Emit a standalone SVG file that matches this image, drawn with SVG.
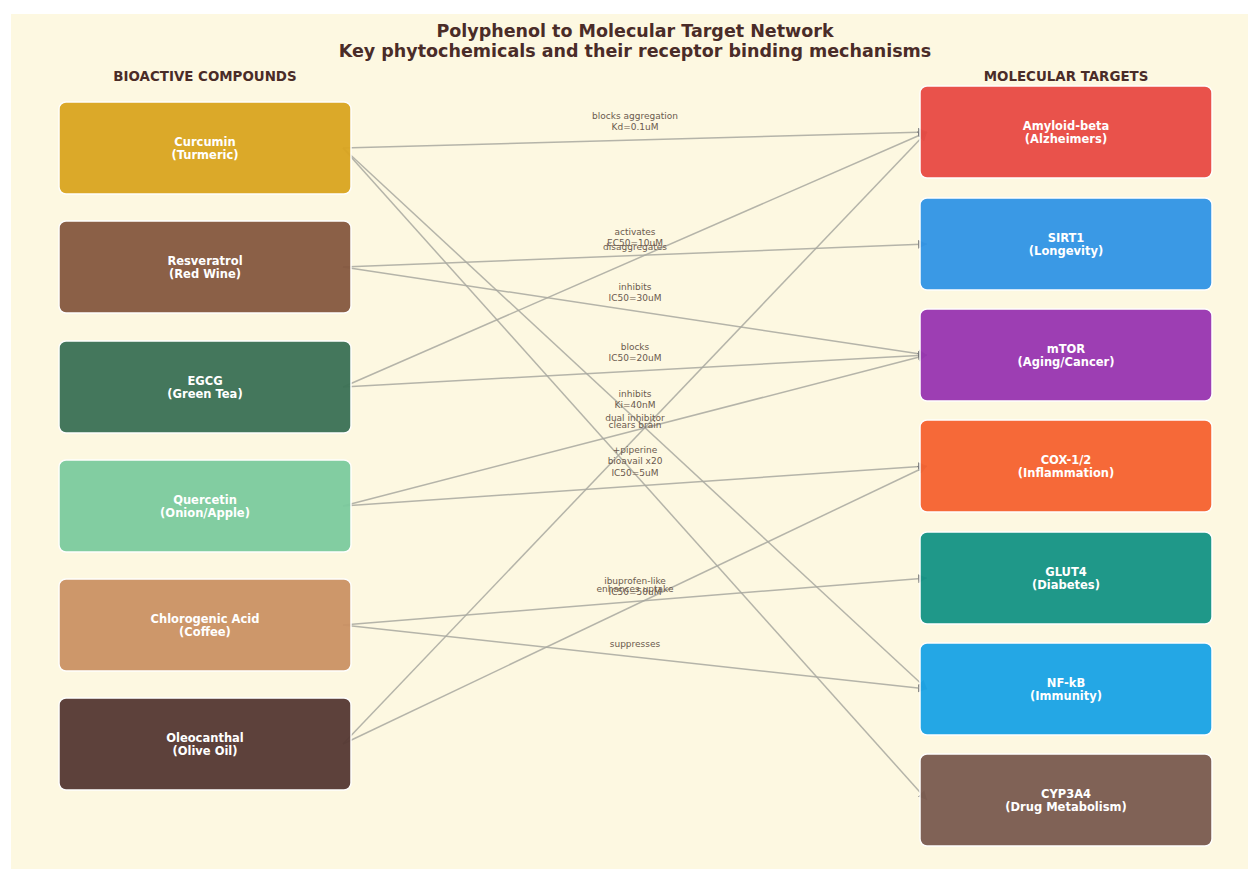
<svg xmlns="http://www.w3.org/2000/svg" width="1248" height="869" viewBox="0 0 1248 869">
<defs>
<marker id="arr" viewBox="0 0 10 10" refX="10" refY="5" markerWidth="9" markerHeight="9" orient="auto" markerUnits="userSpaceOnUse"><path d="M0,0 L10,5 L0,10 z" fill="#777"/></marker>
<style>
.title{font-family:"DejaVu Sans",sans-serif;font-weight:bold;font-size:17.5px;fill:#4a2c28;text-anchor:middle}
.hdr{font-family:"DejaVu Sans",sans-serif;font-weight:bold;font-size:13.4px;fill:#4a2c28;text-anchor:middle}
.node rect{stroke:#ffffff;stroke-width:1.5;opacity:0.95}
.node text{font-family:"DejaVu Sans",sans-serif;font-weight:bold;font-size:11.5px;fill:#ffffff;text-anchor:middle}
.edge{stroke:#a9a9a0;stroke-width:1.5;fill:none;opacity:0.85}
.lbl{font-family:"DejaVu Sans",sans-serif;font-size:9px;fill:#6b5a4e;text-anchor:middle}
</style>
</defs>
<rect x="0" y="0" width="1248" height="869" fill="#ffffff"/>
<rect x="11" y="14" width="1237" height="855" fill="#fdf8e1"/>
<text class="title" x="635" y="37">Polyphenol to Molecular Target Network</text>
<text class="title" x="635" y="57">Key phytochemicals and their receptor binding mechanisms</text>
<text class="hdr" x="205" y="81">BIOACTIVE COMPOUNDS</text>
<text class="hdr" x="1066" y="81">MOLECULAR TARGETS</text>

<g id="connectors">
<line class="edge" x1="343" y1="148" x2="927" y2="132" marker-end="url(#arr)"/>
<line class="edge" x1="343" y1="148" x2="927" y2="689" marker-end="url(#arr)"/>
<line class="edge" x1="343" y1="148" x2="927" y2="800" marker-end="url(#arr)"/>
<line class="edge" x1="343" y1="267" x2="927" y2="244" marker-end="url(#arr)"/>
<line class="edge" x1="343" y1="267" x2="927" y2="355" marker-end="url(#arr)"/>
<line class="edge" x1="343" y1="387" x2="927" y2="132" marker-end="url(#arr)"/>
<line class="edge" x1="343" y1="387" x2="927" y2="355" marker-end="url(#arr)"/>
<line class="edge" x1="343" y1="506" x2="927" y2="355" marker-end="url(#arr)"/>
<line class="edge" x1="343" y1="506" x2="927" y2="466" marker-end="url(#arr)"/>
<line class="edge" x1="343" y1="625" x2="927" y2="578" marker-end="url(#arr)"/>
<line class="edge" x1="343" y1="625" x2="927" y2="689" marker-end="url(#arr)"/>
<line class="edge" x1="343" y1="744" x2="927" y2="132" marker-end="url(#arr)"/>
<line class="edge" x1="343" y1="744" x2="927" y2="466" marker-end="url(#arr)"/>
<text class="lbl" x="635" y="119">blocks aggregation</text><text class="lbl" x="635" y="130">Kd=0.1uM</text>
<text class="lbl" x="635" y="397">inhibits</text><text class="lbl" x="635" y="408">Ki=40nM</text>
<text class="lbl" x="635" y="453">+piperine</text><text class="lbl" x="635" y="464">bioavail x20</text>
<text class="lbl" x="635" y="234.5">activates</text><text class="lbl" x="635" y="245.5">EC50=10uM</text>
<text class="lbl" x="635" y="290">inhibits</text><text class="lbl" x="635" y="301">IC50=30uM</text>
<text class="lbl" x="635" y="249.5">disaggregates</text>
<text class="lbl" x="635" y="350">blocks</text><text class="lbl" x="635" y="361">IC50=20uM</text>
<text class="lbl" x="635" y="420.5">dual inhibitor</text>
<text class="lbl" x="635" y="476">IC50=5uM</text>
<text class="lbl" x="635" y="591.5">enhances uptake</text>
<text class="lbl" x="635" y="647">suppresses</text>
<text class="lbl" x="635" y="428">clears brain</text>
<text class="lbl" x="635" y="584">ibuprofen-like</text><text class="lbl" x="635" y="595">IC50=50uM</text>
</g>

<g id="curcumin" class="node"><rect x="59" y="102" width="292" height="92" rx="7" fill="#daa520"/><text x="205" y="146">Curcumin</text><text x="205" y="159">(Turmeric)</text></g>
<g id="resveratrol" class="node"><rect x="59" y="221" width="292" height="92" rx="7" fill="#85583f"/><text x="205" y="265">Resveratrol</text><text x="205" y="278">(Red Wine)</text></g>
<g id="egcg" class="node"><rect x="59" y="341" width="292" height="92" rx="7" fill="#3b7155"/><text x="205" y="385">EGCG</text><text x="205" y="398">(Green Tea)</text></g>
<g id="quercetin" class="node"><rect x="59" y="460" width="292" height="92" rx="7" fill="#7ccb9e"/><text x="205" y="504">Quercetin</text><text x="205" y="517">(Onion/Apple)</text></g>
<g id="chlorogenic" class="node"><rect x="59" y="579" width="292" height="92" rx="7" fill="#cb9264"/><text x="205" y="623">Chlorogenic Acid</text><text x="205" y="636">(Coffee)</text></g>
<g id="oleocanthal" class="node"><rect x="59" y="698" width="292" height="92" rx="7" fill="#553833"/><text x="205" y="742">Oleocanthal</text><text x="205" y="755">(Olive Oil)</text></g>

<g id="amyloid" class="node"><rect x="920" y="86" width="292" height="92" rx="7" fill="#e84a43"/><text x="1066" y="130">Amyloid-beta</text><text x="1066" y="143">(Alzheimers)</text></g>
<g id="sirt1" class="node"><rect x="920" y="198" width="292" height="92" rx="7" fill="#3094e6"/><text x="1066" y="242">SIRT1</text><text x="1066" y="255">(Longevity)</text></g>
<g id="mtor" class="node"><rect x="920" y="309" width="292" height="92" rx="7" fill="#9835b1"/><text x="1066" y="353">mTOR</text><text x="1066" y="366">(Aging/Cancer)</text></g>
<g id="cox" class="node"><rect x="920" y="420" width="292" height="92" rx="7" fill="#f66230"/><text x="1066" y="464">COX-1/2</text><text x="1066" y="477">(Inflammation)</text></g>
<g id="glut4" class="node"><rect x="920" y="532" width="292" height="92" rx="7" fill="#149385"/><text x="1066" y="576">GLUT4</text><text x="1066" y="589">(Diabetes)</text></g>
<g id="nfkb" class="node"><rect x="920" y="643" width="292" height="92" rx="7" fill="#19a3e6"/><text x="1066" y="687">NF-kB</text><text x="1066" y="700">(Immunity)</text></g>
<g id="cyp3a4" class="node"><rect x="920" y="754" width="292" height="92" rx="7" fill="#7a5b4f"/><text x="1066" y="798">CYP3A4</text><text x="1066" y="811">(Drug Metabolism)</text></g>
</svg>
